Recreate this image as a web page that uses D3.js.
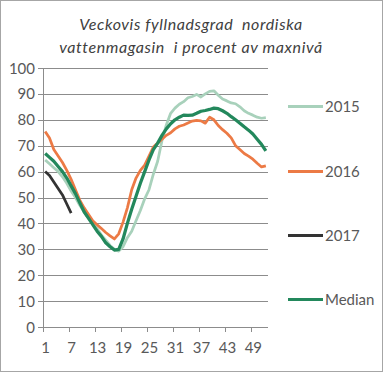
<!DOCTYPE html>
<html>
<head>
<meta charset="utf-8">
<script src="https://cdn.jsdelivr.net/npm/d3@7"></script>
<style>
  html, body { margin: 0; padding: 0; background: #fff; }
  svg text { font-family: Lato, "Open Sans", sans-serif; }
</style>
</head>
<body>
<div id="chart"></div>
<script>
// weeks 1..52
const weeks = d3.range(1, 53);
const xTickLabels = [1, 7, 13, 19, 25, 31, 37, 43, 49];
const yTicks = [0, 10, 20, 30, 40, 50, 60, 70, 80, 90, 100];
const seriesNames = ["2015", "2016", "2017", "Median"];

const values2015 = [64.5, 63, 61.5, 60, 58, 55.5, 52.5, 50, 47, 44.5, 42, 40, 38, 35.5, 33.5, 31.5, 30, 29.3, 31, 34.5,
  37, 41, 45, 49.5, 53, 59, 64, 72, 78, 82.5, 84.5, 86, 87, 88.5, 89, 89.8, 88.8, 90, 91, 91.2,
  89.5, 88, 87.3, 86.5, 86.2, 85, 83.5, 82.5, 81.8, 81, 80.6, 80.8];
const values2016 = [75.5, 73, 68.5, 66, 63.5, 60.5, 57, 53, 49, 46, 43.5, 41, 39.5, 38, 36.5, 35.2, 34, 36, 40.5, 46,
  53, 57.5, 60.5, 62.5, 66, 69.5, 71, 72.5, 74, 75, 76.5, 77.5, 78, 78.8, 79.5, 79.8, 79.6, 78.7, 81, 80,
  77.8, 76.2, 74.8, 73, 70, 68.5, 67, 66, 64.8, 63.2, 61.8, 62.2];
const values2017 = [60, 58.5, 56, 53.5, 51, 47.5, 44];
const valuesMedian = [67, 65.5, 64, 62, 60, 57.5, 54.5, 51.5, 48, 44.5, 42, 39.5, 37, 35, 32.5, 31, 29.7, 30, 34, 40,
  45.5, 50.5, 55.5, 60, 64.5, 68.5, 71, 74, 76.5, 78.5, 80, 81, 81.8, 81.7, 81.8, 82.5, 83.3, 83.6, 84, 84.5,
  84.3, 83.5, 82.5, 81.2, 80, 78.7, 77.3, 76, 74.5, 72.5, 70.5, 68];

const colors = ["#a8d1bb", "#ec7a45", "#333333", "#23885c"];
const seriesValues = [values2015, values2016, values2017, valuesMedian];

const W = 384, H = 374;
const svg = d3.select("#chart").append("svg").attr("width", W).attr("height", H);

// frame
svg.append("rect")
  .attr("x", 0.5).attr("y", 0.5).attr("width", 382).attr("height", 371)
  .attr("fill", "none").attr("stroke", "#a6a6a6");

// title
const title = svg.append("text")
  .attr("text-anchor", "middle")
  .style("font-style", "italic")
  .style("font-size", "16px")
  .style("letter-spacing", "0.6px")
  .style("fill", "#404040")
  .style("white-space", "pre");
title.append("tspan").attr("x", 191).attr("y", 30).text("Veckovis fyllnadsgrad  nordiska");
title.append("tspan").attr("x", 191).attr("y", 53).text("vattenmagasin  i procent av maxnivå");

const x = d3.scaleBand().domain(weeks).range([43, 268]).paddingInner(0).paddingOuter(0);
const y = d3.scaleLinear().domain([0, 100]).range([327, 68]);
const bw = x.bandwidth();

// gridlines + y labels
svg.append("g")
  .selectAll("line")
  .data(yTicks)
  .join("line")
  .attr("x1", 38).attr("x2", 268)
  .attr("y1", d => Math.round(y(d)) + 0.5).attr("y2", d => Math.round(y(d)) + 0.5)
  .attr("stroke", "#8c8c8c").attr("stroke-width", 1);

svg.append("g")
  .selectAll("text")
  .data(yTicks)
  .join("text")
  .attr("x", 35).attr("y", d => y(d) + 5.5)
  .attr("text-anchor", "end")
  .style("font-size", "15px").style("fill", "#595959")
  .text(d => d);

// y axis line
svg.append("line")
  .attr("x1", 43.5).attr("x2", 43.5).attr("y1", y(100)).attr("y2", y(0))
  .attr("stroke", "#8c8c8c");

// x ticks at category boundaries
svg.append("g")
  .selectAll("line")
  .data(xTickLabels)
  .join("line")
  .attr("x1", d => Math.round(x(d)) + 0.5).attr("x2", d => Math.round(x(d)) + 0.5)
  .attr("y1", y(0)).attr("y2", y(0) + 5)
  .attr("stroke", "#8c8c8c");

svg.append("g")
  .selectAll("text")
  .data(xTickLabels)
  .join("text")
  .attr("x", d => x(d) + bw / 2 + 0.5).attr("y", 353)
  .attr("text-anchor", "middle")
  .style("font-size", "15px").style("fill", "#595959")
  .text(d => d);

// lines
const line = d3.line()
  .x((d, i) => x(weeks[i]) + bw / 2)
  .y(d => y(d));

seriesValues.forEach((vals, i) => {
  svg.append("path")
    .datum(vals)
    .attr("d", line)
    .attr("fill", "none")
    .attr("stroke", colors[i])
    .attr("stroke-width", i === 3 ? 3.25 : 2.75)
    .attr("stroke-linejoin", "round");
});

// legend
const legendY = [106.5, 171.5, 235.5, 299.5];
const legend = svg.append("g")
  .selectAll("g")
  .data(seriesNames)
  .join("g")
  .attr("transform", (d, i) => `translate(0,${legendY[i]})`);

legend.append("line")
  .attr("x1", 288).attr("x2", 323)
  .attr("stroke", (d, i) => colors[i])
  .attr("stroke-width", 3);

legend.append("text")
  .attr("x", 325).attr("y", 5.5)
  .style("font-size", "15px").style("fill", "#595959")
  .text(d => d);
</script>
</body>
</html>
